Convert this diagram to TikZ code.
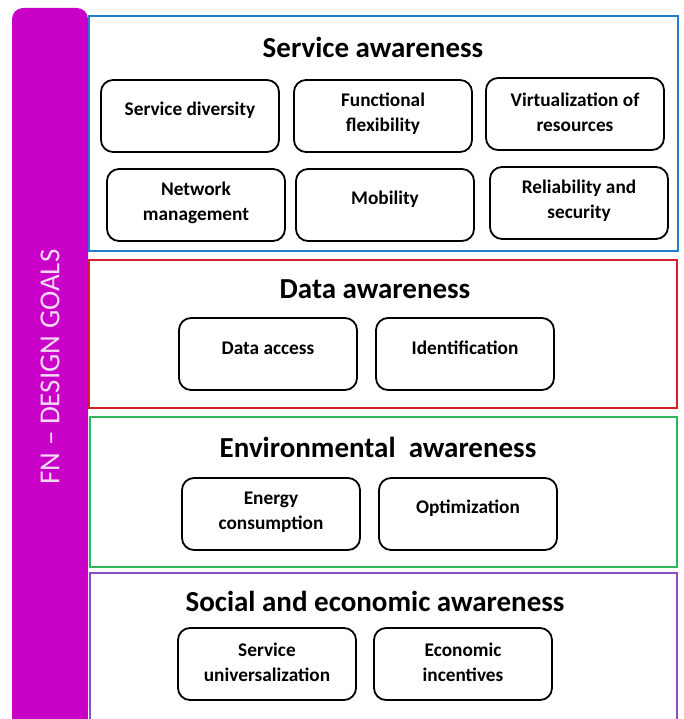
\documentclass[tikz,border=0pt]{standalone}
\usepackage{fontspec}
\setmainfont{Carlito}
\definecolor{barmag}{HTML}{C800C8}
\definecolor{sblue}{HTML}{1F7FD0}
\definecolor{dred}{HTML}{D0202A}
\definecolor{egreen}{HTML}{2DB85A}
\definecolor{spurple}{HTML}{8A4FC0}
\definecolor{bartext}{HTML}{F4D8F4}
\begin{document}
\begin{tikzpicture}[x=1pt,y=-1pt,
  item/.style={draw=black,line width=1.8pt,rounded corners=12pt,fill=white,minimum width=178pt,minimum height=72pt},
  itext/.style={align=center,font=\fontsize{19.3}{25}\selectfont\bfseries,inner sep=0pt},
  title/.style={font=\fontsize{29}{33}\selectfont\bfseries},
  frame/.style={line width=1.6pt}]
\useasboundingbox (0,0) rectangle (683,719);
% left bar
\fill[barmag,rounded corners=11pt] (12,719) -- (12,8) -- (88,8) -- (88,719) -- cycle;
\fill[barmag] (12,700) rectangle (88,719);
\node[rotate=90,text=bartext,font=\fontsize{29}{33}\selectfont] (bar) at (50,367) {FN -- DESIGN GOALS};
% frames
\draw[frame,sblue] (89,16) rectangle (678,251);
\draw[frame,dred] (89,260) rectangle (677,408);
\draw[frame,egreen] (90,417) rectangle (677,567);
\draw[frame,spurple] (90,573) rectangle (677,725);
% titles
\node[title] (t1) at (373,47) {Service awareness};
\node[title] (t2) at (375,289) {Data awareness};
\node[title] (t3) at (378,447) {Environmental\ \ awareness};
\node[title] (t4) at (375,601) {Social and economic awareness};
% service items
\node[item] (s1) at (190,116) {};
\node[item] (s2) at (383,116) {};
\node[item] (s3) at (575,114) {};
\node[item] (s4) at (196,205) {};
\node[item] (s5) at (385,205) {};
\node[item] (s6) at (579,203) {};
\node[itext] (s1t) at ([yshift=6]s1.center) {Service diversity};
\node[itext] (s2t) at ([yshift=2]s2.center) {Functional\\flexibility};
\node[itext] (s3t) at ([yshift=2]s3.center) {Virtualization of\\resources};
\node[itext] (s4t) at ([yshift=2]s4.center) {Network\\management};
\node[itext] (s5t) at ([yshift=6]s5.center) {Mobility};
\node[itext] (s6t) at ([yshift=2]s6.center) {Reliability and\\security};
% data
\node[item] (d1) at (268,354) {};
\node[item] (d2) at (465,354) {};
\node[itext] (d1t) at ([yshift=6]d1.center) {Data access};
\node[itext] (d2t) at ([yshift=6]d2.center) {Identification};
% env
\node[item] (e1) at (271,514) {};
\node[item] (e2) at (468,514) {};
\node[itext] (e1t) at ([yshift=2]e1.center) {Energy\\consumption};
\node[itext] (e2t) at ([yshift=6]e2.center) {Optimization};
% social
\node[item] (o1) at (267,664) {};
\node[item] (o2) at (463,664) {};
\node[itext] (o1t) at ([yshift=2]o1.center) {Service\\universalization};
\node[itext] (o2t) at ([yshift=2]o2.center) {Economic\\incentives};
\end{tikzpicture}
\end{document}
